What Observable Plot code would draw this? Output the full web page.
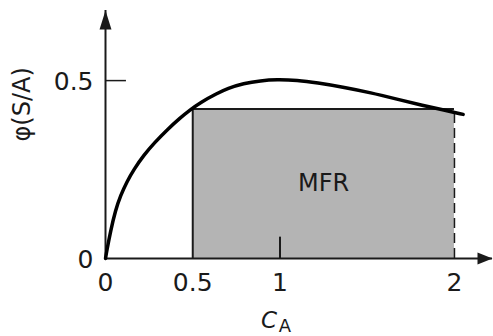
<!DOCTYPE html>
<html><head><meta charset="utf-8">
<script src="https://cdn.jsdelivr.net/npm/d3@7"></script>
<script src="https://cdn.jsdelivr.net/npm/@observablehq/plot@0.6"></script>
<style>body{margin:0;background:#fff} svg{display:block}</style>
</head><body><div id="chart"></div>
<script>
// Curve φ(S/A) versus C_A
const curveX = [0, 0.006, 0.03, 0.057, 0.086, 0.124, 0.162, 0.22, 0.28, 0.355, 0.43, 0.48, 0.545, 0.64, 0.7, 0.79, 0.89, 0.98, 1.1, 1.21, 1.37, 1.52, 1.67, 1.82, 1.94, 2.05];
const curveY = [0, 0.018, 0.079, 0.135, 0.177, 0.217, 0.25, 0.291, 0.325, 0.363, 0.396, 0.416, 0.439, 0.464, 0.478, 0.492, 0.5, 0.503, 0.501, 0.494, 0.481, 0.466, 0.448, 0.43, 0.417, 0.405];
const xTicks = [0, 0.5, 1, 2];
const xTickLabels = ["0", "0.5", "1", "2"];
const yTicks = [0, 0.5];
const yTickLabels = ["0", "0.5"];
const regionX = [0.5, 2];
const regionTop = 0.42;
const regionLabel = "MFR";
const xLabelMain = "C";
const xLabelSub = "A";
const yLabel = "φ(S/A)";
const xMax = 2.218;
const yMax = 0.697;

const curve = curveX.map((x, i) => ({x, y: curveY[i]}));
const region = [{x1: regionX[0], x2: regionX[1], y1: 0, y2: regionTop}];
const upArrow = {draw(ctx) { ctx.moveTo(0, 0); ctx.lineTo(6, 19); ctx.lineTo(-6, 19); ctx.closePath(); }};
const rightArrow = {draw(ctx) { ctx.moveTo(0, 0); ctx.lineTo(-15, 6); ctx.lineTo(-15, -6); ctx.closePath(); }};
const font = "DejaVu Sans";
const ink = "#1a1a1a";

const chart = Plot.plot({
  width: 493, height: 336,
  marginLeft: 105, marginRight: 1, marginTop: 10, marginBottom: 78,
  x: {domain: [0, xMax], axis: null},
  y: {domain: [0, yMax], axis: null},
  style: {fontFamily: font, background: "#fff"},
  marks: [
    Plot.rect(region, {x1: "x1", x2: "x2", y1: "y1", y2: "y2", fill: "#b4b4b4"}),
    Plot.ruleX([regionX[0]], {y1: 0, y2: regionTop, stroke: ink, strokeWidth: 2}),
    Plot.ruleX([regionX[1]], {y1: 0, y2: regionTop, stroke: ink, strokeWidth: 1.5, strokeDasharray: "10,5"}),
    Plot.ruleY([regionTop], {x1: regionX[0], x2: regionX[1], stroke: ink, strokeWidth: 2}),
    Plot.ruleX([0], {stroke: ink, strokeWidth: 2}),
    Plot.ruleY([0], {stroke: ink, strokeWidth: 2}),
    Plot.ruleX([1], {y1: 0, y2: 0.06, stroke: ink, strokeWidth: 2}),
    Plot.ruleY([0.5], {x1: 0, x2: 0.12, stroke: ink, strokeWidth: 1.5}),
    Plot.line(curve, {x: "x", y: "y", curve: "basis", stroke: "#000", strokeWidth: 3.5}),
    Plot.dot([{x: 0, y: yMax}], {x: "x", y: "y", symbol: upArrow, fill: ink, stroke: "none", r: 5}),
    Plot.dot([{x: xMax, y: 0}], {x: "x", y: "y", symbol: rightArrow, fill: ink, stroke: "none", r: 5}),
    Plot.text(xTicks, {x: d => d, y: 0, text: (d, i) => xTickLabels[i], dy: 24, fontSize: 25, fill: ink}),
    Plot.text(yTicks, {x: 0, y: d => d, text: (d, i) => yTickLabels[i], dx: -12, dy: 1, textAnchor: "end", fontSize: 25, fill: ink}),
    Plot.text([regionLabel], {x: (regionX[0] + regionX[1]) / 2, y: regionTop / 2, fontSize: 24, fill: ink}),
    Plot.text([yLabel], {frameAnchor: "left", rotate: -90, dx: -83, dy: 7, fontSize: 24, fill: ink}),
    Plot.text([xLabelMain], {x: 1, y: 0, dx: -11, dy: 62, fontSize: 23, fontStyle: "italic", fill: ink}),
    Plot.text([xLabelSub], {x: 1, y: 0, dx: 5, dy: 68, fontSize: 18, fill: ink})
  ]
});
document.getElementById("chart").append(chart);
</script>
</body></html>
